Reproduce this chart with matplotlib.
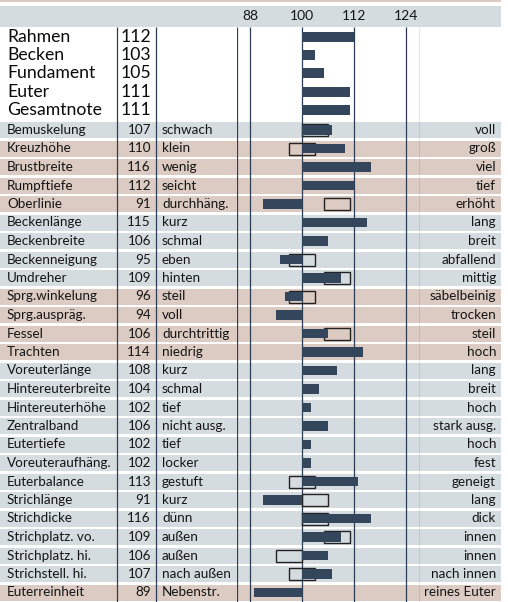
import matplotlib.pyplot as plt

plt.rcParams['font.family'] = ['Lato', 'DejaVu Sans']

# overall scores
top_names = ['Rahmen', 'Becken', 'Fundament', 'Euter', 'Gesamtnote']
top_values = [112, 103, 105, 111, 111]

# linear traits
names = ['Bemuskelung', 'Kreuzhöhe', 'Brustbreite', 'Rumpftiefe', 'Oberlinie',
         'Beckenlänge', 'Beckenbreite', 'Beckenneigung', 'Umdreher',
         'Sprg.winkelung', 'Sprg.auspräg.', 'Fessel', 'Trachten',
         'Voreuterlänge', 'Hintereuterbreite', 'Hintereuterhöhe', 'Zentralband',
         'Eutertiefe', 'Voreuteraufhäng.', 'Euterbalance', 'Strichlänge',
         'Strichdicke', 'Strichplatz. vo.', 'Strichplatz. hi.',
         'Strichstell. hi.', 'Euterreinheit']
values = [107, 110, 116, 112, 91, 115, 106, 95, 109, 96, 94, 106, 114,
          108, 104, 102, 106, 102, 102, 113, 91, 116, 109, 106, 107, 89]
low_labels = ['schwach', 'klein', 'wenig', 'seicht', 'durchhäng.', 'kurz',
              'schmal', 'eben', 'hinten', 'steil', 'voll', 'durchtrittig',
              'niedrig', 'kurz', 'schmal', 'tief', 'nicht ausg.', 'tief',
              'locker', 'gestuft', 'kurz', 'dünn', 'außen', 'außen',
              'nach außen', 'Nebenstr.']
high_labels = ['voll', 'groß', 'viel', 'tief', 'erhöht', 'lang', 'breit',
               'abfallend', 'mittig', 'säbelbeinig', 'trocken', 'steil', 'hoch',
               'lang', 'breit', 'hoch', 'stark ausg.', 'hoch', 'fest',
               'geneigt', 'lang', 'dick', 'innen', 'innen', 'nach innen',
               'reines Euter']
# optimum ranges (outlined boxes)
opt_low = [100, 97, None, None, 105, None, None, 97, 105, 97, None, 105, None,
           None, None, None, None, None, None, 97, 100, 100, 105, 94, 97, None]
opt_high = [106, 103, None, None, 111, None, None, 103, 111, 103, None, 111, None,
            None, None, None, None, None, None, 103, 106, 106, 111, 100, 103, None]
highlight = [False, True, True, True, True, False, False, False, False,
             True, True, True, True, False, False, False, False, False, False,
             False, False, False, False, False, False, True]

ticks = [88, 100, 112, 124]

BAR = '#34465b'
LINE = '#2c3d55'
GREY = '#d5dce0'
TAN = '#dccbc2'
TXT = '#151515'

W, H = 508, 602
fig = plt.figure(figsize=(W / 100, H / 100), dpi=100)

# layout axes in pixel units
bg = fig.add_axes([0, 0, 1, 1])
bg.set_xlim(0, W)
bg.set_ylim(H, 0)
bg.axis('off')

top_y = [36.5 + 18.4 * i for i in range(len(top_names))]
low_y = [130 + 18.5 * j for j in range(len(names))]

bg.barh(0.75, 501, left=0, height=1.5, color=TAN)
bg.barh(16.5, 501, left=0, height=21, color=GREY)
bg.barh(low_y, 501, left=0, height=16,
        color=[TAN if h else GREY for h in highlight])
bg.vlines([117, 156], 27, H, color=LINE, lw=0.9)

for y, n, v in zip(top_y, top_names, top_values):
    bg.text(7, y, n, fontsize=12.7, va='center', ha='left', color='#0a0a0a')
    bg.text(121, y, str(v), fontsize=12.7, va='center', ha='left', color='#0a0a0a')

for y, n, v, lo, hi in zip(low_y, names, values, low_labels, high_labels):
    bg.text(7, y, n, fontsize=9.7, va='center', ha='left', color=TXT)
    bg.text(151, y, str(v), fontsize=9.7, va='center', ha='right', color=TXT)
    bg.text(162, y, lo, fontsize=9.7, va='center', ha='left', color=TXT)
    bg.text(496, y, hi, fontsize=9.7, va='center', ha='right', color=TXT)

# bar axes, value scale
x0, x1 = 237, 420
ax = fig.add_axes([x0 / W, 0, (x1 - x0) / W, 1], facecolor='none')
ax.set_xlim(85, 127.2)
ax.set_ylim(H, 0)
ax.axis('off')

ax.vlines(list(ax.get_xlim()) + ticks, 27, H, color=LINE, lw=0.9, zorder=1)
for t in ticks:
    ax.text(t, 16, str(t), fontsize=10, ha='center', va='center', color=TXT)

ax.barh(top_y, [v - 100 for v in top_values], left=100, height=10,
        color=BAR, zorder=3)

for y, lo, hi in zip(low_y, opt_low, opt_high):
    if lo is not None:
        ax.barh(y, hi - lo, left=lo, height=12, fill=False,
                edgecolor='#222222', lw=1.0, zorder=2)
ax.barh(low_y, [v - 100 for v in values], left=100, height=9.5,
        color=BAR, zorder=3)

fig.savefig('out.png', dpi=100)
